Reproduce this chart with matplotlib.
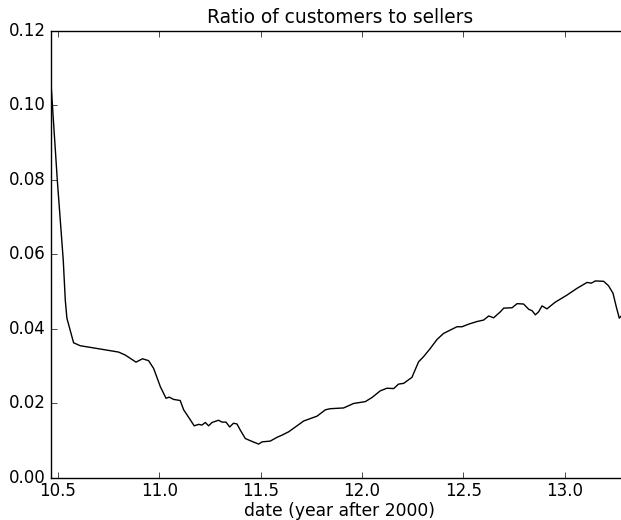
"""Ratio of customers to sellers over time (year after 2000)."""
import matplotlib
matplotlib.use("Agg")
import matplotlib.pyplot as plt

# date (year after 2000) and customer/seller ratio
dates = [
    10.467, 10.497, 10.526, 10.536, 10.544, 10.577, 10.610, 10.700, 10.799,
    10.832, 10.885, 10.917, 10.947, 10.972, 11.005, 11.033, 11.049, 11.070,
    11.103, 11.120, 11.153, 11.172, 11.194, 11.210, 11.227, 11.243, 11.260,
    11.292, 11.309, 11.329, 11.347, 11.366, 11.383, 11.399, 11.424, 11.449,
    11.490, 11.507, 11.547, 11.580, 11.605, 11.638, 11.679, 11.712, 11.778,
    11.819, 11.843, 11.909, 11.942, 11.958, 12.016, 12.049, 12.090, 12.123,
    12.156, 12.180, 12.205, 12.246, 12.279, 12.304, 12.337, 12.370, 12.402,
    12.435, 12.468, 12.493, 12.526, 12.567, 12.600, 12.625, 12.649, 12.682,
    12.699, 12.740, 12.765, 12.797, 12.822, 12.839, 12.855, 12.871, 12.888,
    12.912, 12.953, 13.011, 13.060, 13.110, 13.131, 13.151, 13.192, 13.216,
    13.238, 13.254, 13.269, 13.279,
]
ratio = [
    0.1047, 0.0797, 0.0585, 0.0478, 0.0429, 0.0363, 0.0355, 0.0347, 0.0338,
    0.0330, 0.0311, 0.0320, 0.0315, 0.0294, 0.0245, 0.0214, 0.0217, 0.0211,
    0.0208, 0.0183, 0.0156, 0.0140, 0.0144, 0.0142, 0.0149, 0.0140, 0.0149,
    0.0155, 0.0150, 0.0150, 0.0137, 0.0147, 0.0145, 0.0129, 0.0106, 0.0100,
    0.0091, 0.0097, 0.0099, 0.0109, 0.0115, 0.0124, 0.0140, 0.0153, 0.0166,
    0.0183, 0.0186, 0.0188, 0.0196, 0.0200, 0.0205, 0.0216, 0.0234, 0.0241,
    0.0240, 0.0252, 0.0254, 0.0270, 0.0312, 0.0326, 0.0348, 0.0372, 0.0388,
    0.0397, 0.0406, 0.0406, 0.0413, 0.0420, 0.0424, 0.0435, 0.0430, 0.0446,
    0.0456, 0.0457, 0.0468, 0.0467, 0.0453, 0.0449, 0.0438, 0.0446, 0.0462,
    0.0454, 0.0472, 0.0491, 0.0509, 0.0525, 0.0523, 0.0529, 0.0528, 0.0516,
    0.0496, 0.0460, 0.0429, 0.0435,
]
x_ticks = [10.5, 11.0, 11.5, 12.0, 12.5, 13.0]
y_ticks = [0.00, 0.02, 0.04, 0.06, 0.08, 0.10, 0.12]

plt.style.use("classic")
plt.rcParams["font.family"] = ["DejaVu Sans"]

fig = plt.figure(figsize=(6.21, 5.2), dpi=100, facecolor="white")
# the original was cropped on the right, so the axes run past the canvas edge
ax = fig.add_axes([0.0821, 0.0808, 0.9308, 0.8596])
ax.plot(dates, ratio, color="k", linewidth=1.0)

ax.set_xlim(10.4655, 13.317)
ax.set_ylim(0, 0.12)
ax.set_xticks(x_ticks)
ax.set_xticklabels([f"{t:.1f}" for t in x_ticks])
ax.set_yticks(y_ticks)
ax.set_yticklabels([f"{t:.2f}" for t in y_ticks])
ax.tick_params(direction="in", length=4, labelsize=12, top=True, right=True)
ax.tick_params(axis="x", pad=3)
ax.set_xlabel("date (year after 2000)", fontsize=12.3, labelpad=1)
ax.set_title("Ratio of customers to sellers", fontsize=13.4, pad=6)

fig.savefig("out.png", dpi=100, facecolor="white")
